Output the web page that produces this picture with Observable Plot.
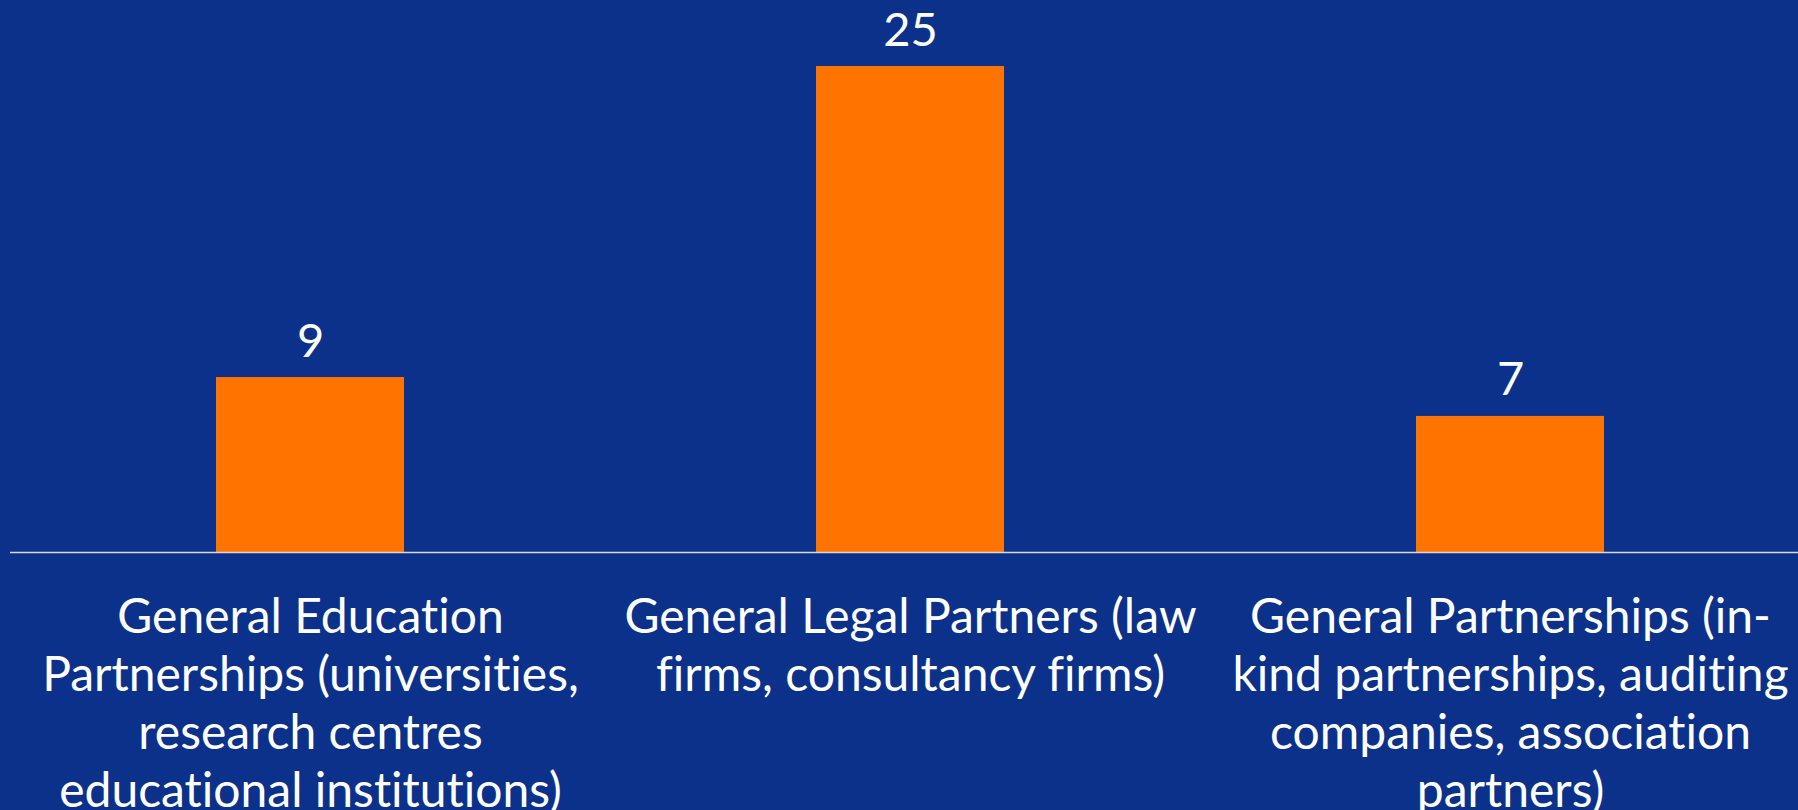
<!DOCTYPE html>
<html>
<head>
<meta charset="utf-8">
<script src="https://cdn.jsdelivr.net/npm/d3@7"></script>
<script src="https://cdn.jsdelivr.net/npm/@observablehq/plot@0.6"></script>
<style>
  html, body { margin: 0; padding: 0; background: #0c318a; }
  #chart { width: 1798px; height: 810px; overflow: hidden; }
  #chart svg text { font-variant-ligatures: none; font-feature-settings: "liga" 0, "clig" 0; }
</style>
</head>
<body>
<div id="chart"></div>
<script>
const categories = [
  "General Education Partnerships (universities, research centres educational institutions)",
  "General Legal Partners (law firms, consultancy firms)",
  "General Partnerships (in-kind partnerships, auditing companies, association partners)"
];
const values = [9, 25, 7];
const tickLabels = [
  "General Education\nPartnerships (universities,\nresearch centres\neducational institutions)",
  "General Legal Partners (law\nfirms, consultancy firms)",
  "General Partnerships (in-\nkind partnerships, auditing\ncompanies, association\npartners)"
];

const data = categories.map((c, i) => ({category: c, value: values[i]}));
const labelOf = new Map(categories.map((c, i) => [c, tickLabels[i]]));

const chart = Plot.plot({
  width: 1798,
  height: 810,
  marginLeft: 10,
  marginRight: 0,
  marginTop: 66,
  marginBottom: 258,
  style: {
    background: "#0c318a",
    color: "#ffffff",
    fontFamily: "Lato, 'Open Sans', sans-serif",
    fontSize: "48px"
  },
  x: {
    domain: categories,
    range: [10, 1810],
    paddingInner: 0.687,
    paddingOuter: 0.3435,
    align: 0.5,
    label: null
  },
  y: { domain: [0, 25], axis: null },
  marks: [
    Plot.barY(data, {x: "category", y: "value", fill: "#ff7300"}),
    Plot.ruleY([0], {stroke: "#d9d9d9", strokeWidth: 1.5}),
    Plot.text(data, {
      x: "category", y: "value", text: d => String(d.value),
      fill: "#ffffff", fontSize: 47, lineAnchor: "bottom", dy: -21
    }),
    Plot.axisX({
      tickSize: 0,
      tickPadding: 39,
      tickFormat: d => labelOf.get(d),
      fontSize: 48,
      lineHeight: 1.21,
      textOverflow: null,
      lineWidth: Infinity,
      label: null,
      fill: "#ffffff"
    })
  ]
});
document.getElementById("chart").appendChild(chart);
</script>
</body>
</html>
